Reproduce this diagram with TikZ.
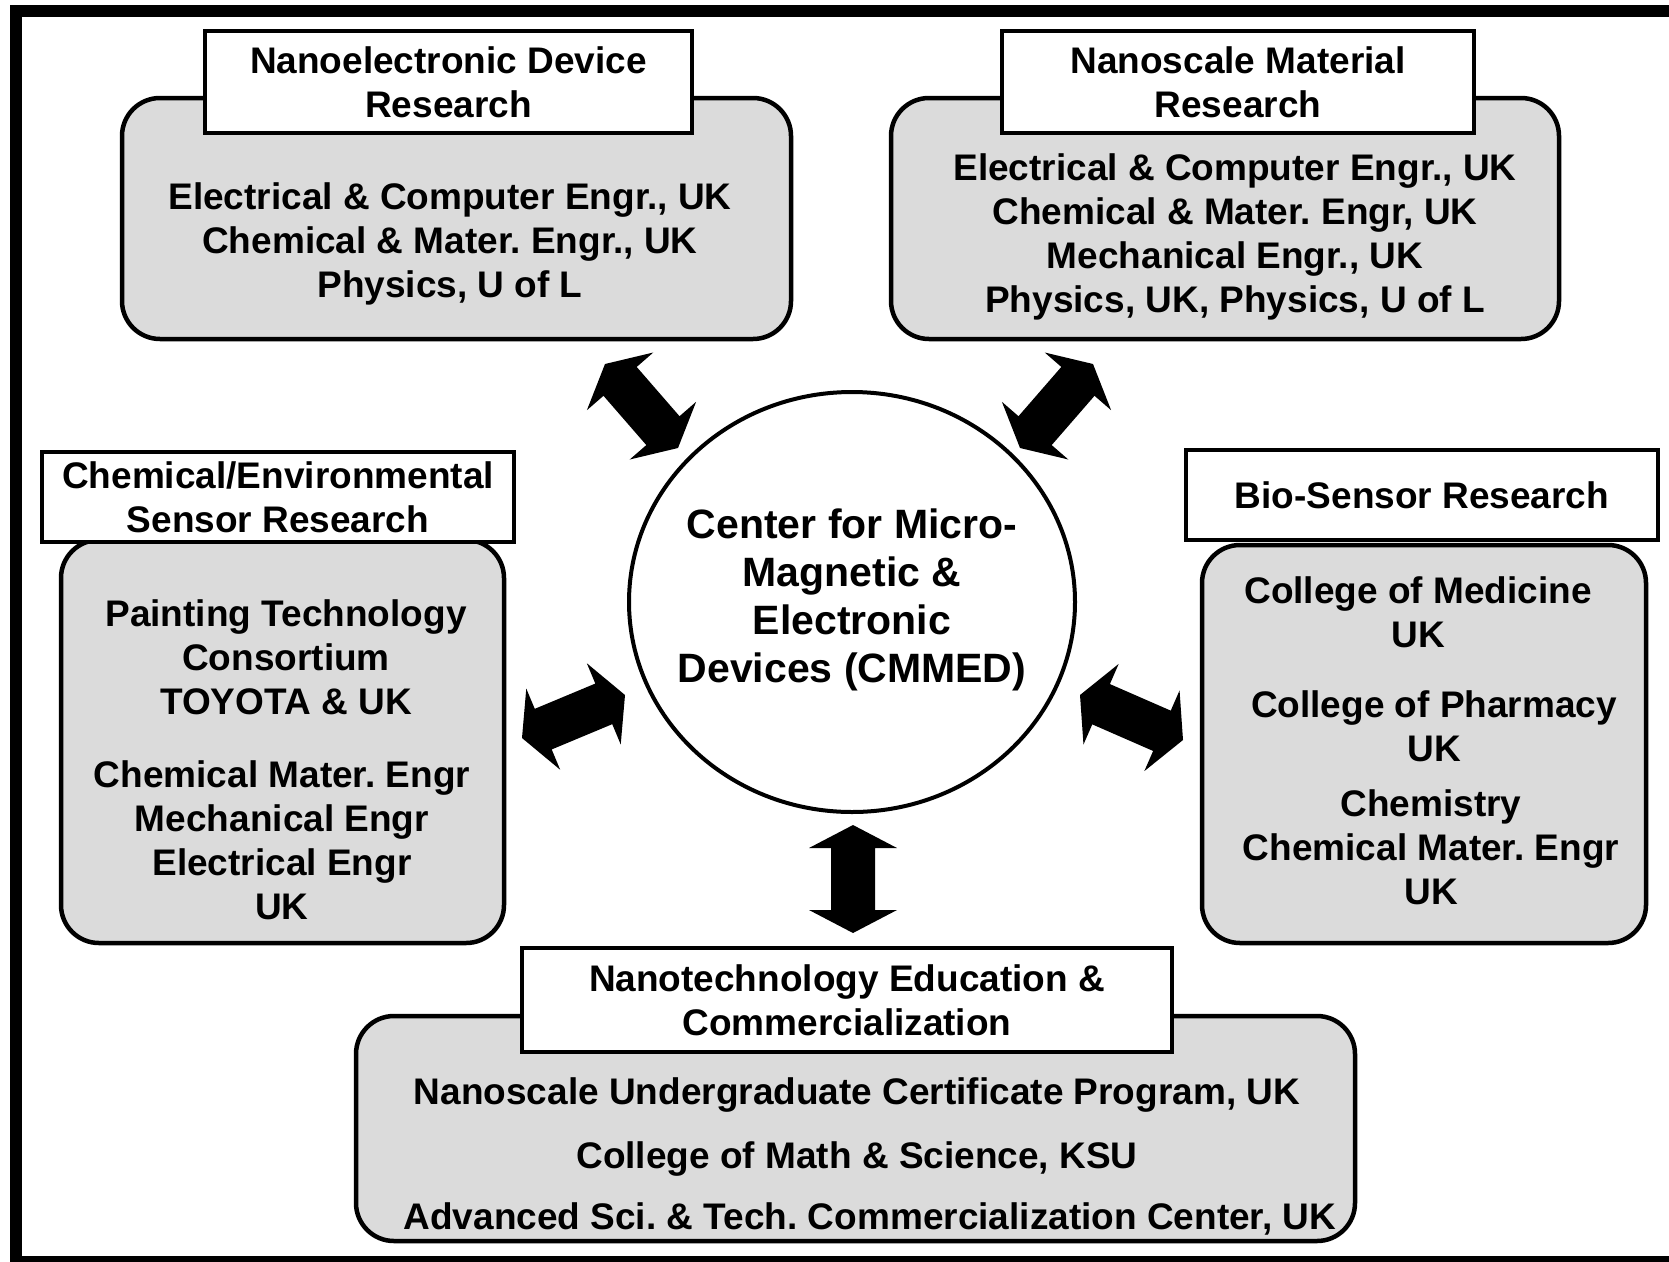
\documentclass[tikz,border=0pt]{standalone}
\usepackage{fontspec}
\setmainfont{Liberation Sans}
\usetikzlibrary{calc,shapes.geometric}
\frenchspacing

\newcommand{\panelfont}{\fontsize{37pt}{44pt}\selectfont\bfseries}
\newcommand{\hubfont}{\fontsize{41pt}{48pt}\selectfont\bfseries}

% filled double-headed block arrow between two named coordinates
\newcommand{\twowayarrow}[2]{%
  \coordinate (ha) at ($(#1)!23pt!(#2)$);
  \coordinate (hb) at ($(#2)!23pt!(#1)$);
  \fill[black] (#1) -- ($(ha)!44pt!90:(#2)$) -- ($(ha)!22pt!90:(#2)$)
    -- ($(hb)!22pt!-90:(#1)$) -- ($(hb)!44pt!-90:(#1)$) -- (#2)
    -- ($(hb)!44pt!90:(#1)$) -- ($(hb)!22pt!90:(#1)$)
    -- ($(ha)!22pt!-90:(#2)$) -- ($(ha)!44pt!-90:(#2)$) -- cycle;
}

\tikzset{
  panel/.style={draw, line width=4.5pt, fill=black!14, rounded corners=38pt, inner sep=0pt},
  header/.style={draw, line width=4.5pt, fill=white, inner sep=0pt, align=center,
    text depth=0pt, font=\panelfont},
  label/.style={align=center, inner sep=0pt, text depth=0pt, font=\panelfont},
  hub/.style={draw, ellipse, line width=4pt, fill=white, inner sep=0pt},
}

\begin{document}
\begin{tikzpicture}[x=1pt,y=-1pt]
\useasboundingbox (0,0) rectangle (1669,1261);
\clip (0,0) rectangle (1669,1261);

% outer frame, open on the right
\draw[line width=12pt, line join=miter] (1690,11) -- (15.5,11) -- (15.5,1262) -- (1690,1262);

% shaded panels
\node[panel, minimum width=669pt, minimum height=241pt] (nanoel) at (456.5,218.5) {};
\node[panel, minimum width=668pt, minimum height=241pt] (nanomat) at (1225,218.5) {};
\node[panel, minimum width=443pt, minimum height=403pt] (chemsens) at (282.5,741.5) {};
\node[panel, minimum width=444pt, minimum height=398pt] (biosens) at (1424,744) {};
\node[panel, minimum width=999pt, minimum height=225pt] (edu) at (855.5,1128.5) {};

% white headers
\node[header, minimum width=487pt, minimum height=102pt] (nanoelT) at (448.5,82)
  {Nanoelectronic Device\\Research};
\node[header, minimum width=472pt, minimum height=102pt] (nanomatT) at (1238,82)
  {Nanoscale Material\\Research};
\node[header, minimum width=472pt, minimum height=90pt] (chemsensT) at (278,497)
  {Chemical/Environmental\\Sensor Research};
\node[header, minimum width=472pt, minimum height=90pt] (biosensT) at (1422,495)
  {Bio-Sensor Research};
\node[header, minimum width=650pt, minimum height=104pt] (eduT) at (847,1000)
  {Nanotechnology Education \&\\Commercialization};

% panel contents
\node[label] (nanoelB) at (450,240)
  {Electrical \& Computer Engr., UK\\Chemical \& Mater. Engr., UK\\Physics, U of L};
\node[label] (nanomatB) at (1235,233.5)
  {Electrical \& Computer Engr., UK\\Chemical \& Mater. Engr, UK\\Mechanical Engr., UK\\Physics, UK, Physics, U of L};
\node[label] (chemsensA) at (286,657)
  {Painting Technology\\Consortium\\TOYOTA \& UK};
\node[label] (chemsensB) at (282,840.5)
  {Chemical Mater. Engr\\Mechanical Engr\\Electrical Engr\\UK};
\node[label] (biosensA) at (1418,612.5) {College of Medicine\\UK};
\node[label] (biosensB) at (1434,726) {College of Pharmacy\\UK};
\node[label] (biosensC) at (1431,847) {Chemistry\\Chemical Mater. Engr\\UK};
\node[label] (eduA) at (857,1091) {Nanoscale Undergraduate Certificate Program, UK};
\node[label] (eduB) at (857,1155) {College of Math \& Science, KSU};
\node[label] (eduC) at (870,1216) {Advanced Sci. \& Tech. Commercialization Center, UK};

% central hub
\node[hub, minimum width=446pt, minimum height=420pt] (cmmed) at (852,602) {};
\node[label, font=\hubfont] (cmmedT) at (852,596)
  {Center for Micro-\\Magnetic \&\\Electronic\\Devices (CMMED)};

% arrow end points
\coordinate (tlA) at (605,364);  \coordinate (tlB) at (678,448);
\coordinate (trA) at (1093,364); \coordinate (trB) at (1020,448);
\coordinate (lA) at (522,738);   \coordinate (lB) at (625,695);
\coordinate (rA) at (1080,695);  \coordinate (rB) at (1183,740);
\coordinate (bA) at (853,825);   \coordinate (bB) at (853,933);

\twowayarrow{tlA}{tlB}
\twowayarrow{trA}{trB}
\twowayarrow{lA}{lB}
\twowayarrow{rA}{rB}
\twowayarrow{bA}{bB}
\end{tikzpicture}
\end{document}
